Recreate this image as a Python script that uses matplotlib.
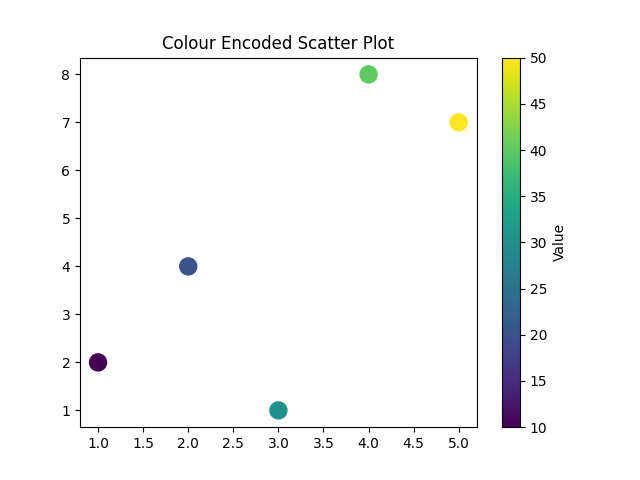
import matplotlib
matplotlib.use("Agg")
import matplotlib.pyplot as plt

x = [1, 2, 3, 4, 5]
y = [2, 4, 1, 8, 7]
values = [10, 20, 30, 40, 50]

fig, ax = plt.subplots(figsize=(6.4, 4.8), dpi=100)
sc = ax.scatter(x, y, c=values, cmap='viridis', s=150)
cbar = fig.colorbar(sc, ax=ax)
cbar.set_label('Value')
ax.set_title('Colour Encoded Scatter Plot')

fig.savefig('out.png')
